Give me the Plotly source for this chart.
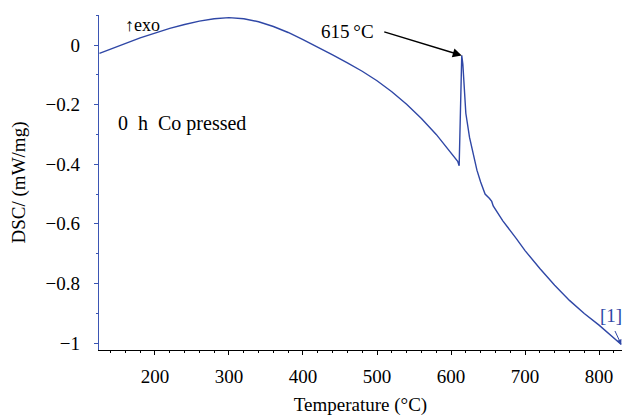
import plotly.graph_objects as go

# Data
temperature = [125, 140, 160, 180, 200, 220, 240, 260, 280, 300, 320, 340, 360, 380, 400,
               420, 440, 460, 480, 500, 520, 540, 560, 580, 600, 609, 611,
               614.5, 616, 618, 620, 625, 630, 635, 640, 646, 652, 655, 657,
               670, 688, 700, 720, 740, 760, 780, 800, 815, 830]
dsc = [-0.028, -0.014, 0.007, 0.024, 0.040, 0.056, 0.069, 0.080, 0.088, 0.092, 0.088, 0.078,
       0.062, 0.042, 0.018, -0.007, -0.033, -0.060, -0.088, -0.120, -0.157, -0.199, -0.247,
       -0.300, -0.360, -0.390, -0.405,
       -0.035, -0.065, -0.150, -0.229, -0.310, -0.365, -0.420, -0.460, -0.500, -0.515, -0.525,
       -0.540, -0.590, -0.649, -0.690, -0.750, -0.806, -0.857, -0.901, -0.940, -0.972, -1.005]

x_ticks = [200, 300, 400, 500, 600, 700, 800]
y_ticks = [0, -0.2, -0.4, -0.6, -0.8, -1]
y_ticktext = ["0", "\u22120.2", "\u22120.4", "\u22120.6", "\u22120.8", "\u22121"]

x_range = [124.4, 831]
y_range = [-1.0235, 0.1007]

peak_label = "615\u2009\u00b0C"
sample_label = "0  h  Co pressed"
curve_label = "[1]"

FONT = "Liberation Serif"
BLUE = "#2f47a6"
AXBLUE = "#3b55b3"

fig = go.Figure()
fig.add_trace(go.Scatter(x=temperature, y=dsc, mode="lines",
                         line=dict(color=BLUE, width=1.4), showlegend=False,
                         cliponaxis=False))

fig.update_layout(
    width=623, height=419,
    margin=dict(l=99, r=1, t=15, b=69),
    paper_bgcolor="white", plot_bgcolor="white",
    font=dict(family=FONT, size=19, color="black"),
    showlegend=False,
)

fig.update_xaxes(
    range=x_range, tickvals=x_ticks, showgrid=False, zeroline=False, automargin=False,
    showline=True, linecolor="black", linewidth=1.3,
    ticks="outside", ticklen=4, tickwidth=1.2, tickcolor="black",
    ticklabelstandoff=5,
    minor=dict(dtick=20, tick0=0, ticks="outside", ticklen=2, tickwidth=1, tickcolor="black"),
    title=dict(text="Temperature (\u00b0C)", standoff=11, font=dict(size=19)),
)
fig.update_yaxes(
    range=y_range, tickvals=y_ticks, ticktext=y_ticktext, showgrid=False, zeroline=False,
    automargin=False,
    showline=True, linecolor=AXBLUE, linewidth=1.3,
    ticks="outside", ticklen=4, tickwidth=1.2, tickcolor=AXBLUE,
    ticklabelstandoff=10,
    minor=dict(dtick=0.1, tick0=0, ticks="outside", ticklen=2, tickwidth=1, tickcolor=AXBLUE),
    title=dict(text="DSC/ (mW/mg)", standoff=14, font=dict(size=19)),
)

# texts
fig.add_annotation(x=460, y=0.045, text=peak_label, showarrow=False,
                   font=dict(size=19, color="black"))
fig.add_annotation(x=614.5, y=-0.035, ax=-79, ay=-24, text="", showarrow=True,
                   arrowhead=2, arrowsize=1.2, arrowwidth=1.5, arrowcolor="black")
fig.add_annotation(x=236, y=-0.265, text=sample_label, showarrow=False,
                   font=dict(size=20, color="black"))
fig.add_annotation(x=816.7, y=-0.909, text=curve_label, showarrow=False,
                   font=dict(size=19, color=BLUE))
fig.add_annotation(x=830, y=-1.005, ax=-7, ay=-15, text="", showarrow=True,
                   arrowhead=2, arrowsize=1, arrowwidth=1, arrowcolor=BLUE)
fig.add_annotation(xref="paper", yref="paper", x=0.045, y=1.006, text="\u2191exo",
                   showarrow=False, font=dict(size=18, color="black"))

fig.write_html("out.html", config={"displayModeBar": False},
               post_script="document.body.style.margin='0px';document.body.style.overflow='hidden';")
